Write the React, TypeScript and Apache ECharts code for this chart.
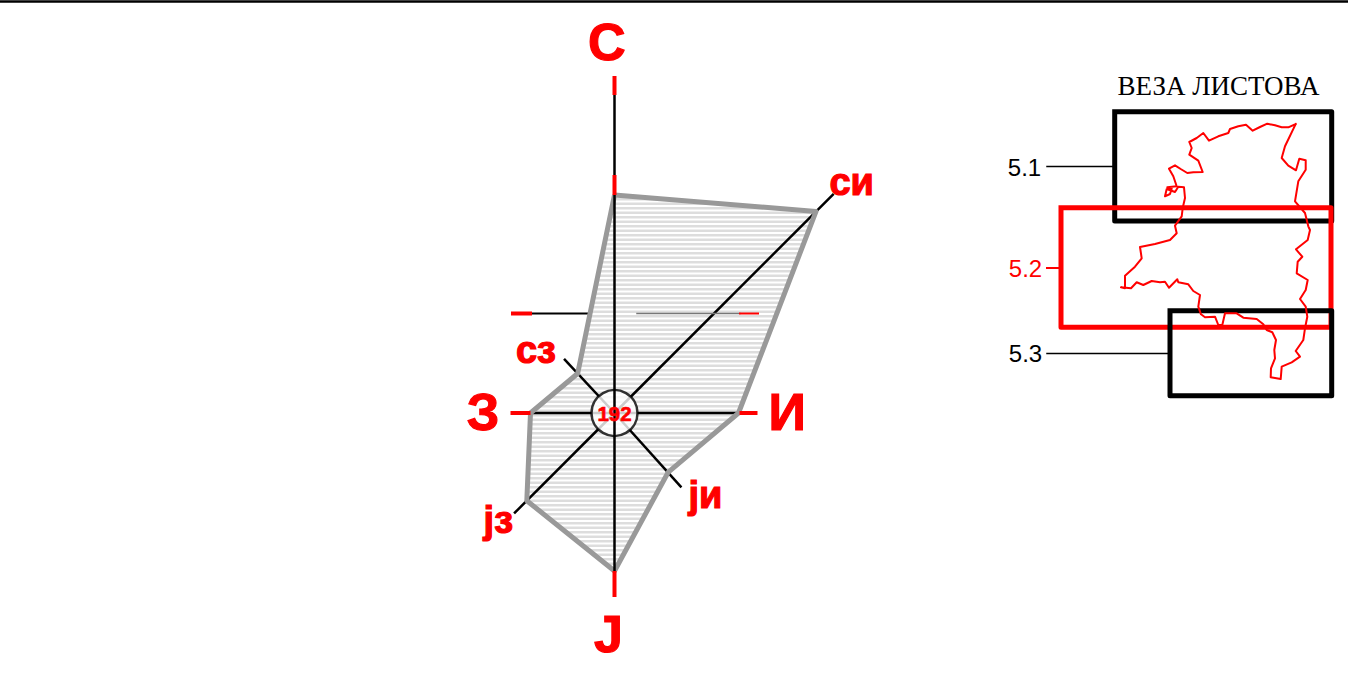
import React, { useEffect, useRef } from "react";
import * as echarts from "echarts";

const directions = ["С", "си", "И", "ји", "Ј", "јз", "З", "сз"];
const roseAngles = [0, 45, 90, 138, 180, 225, 270, 317, 360];
const roseValues = [218, 285, 124, 80, 158, 124, 84, 54, 218];
const armAngles = [45, 90, 138, 225, 270, 317];
const armLengths = [310, 125, 100, 142, 84, 74];
const northArm = 318;
const southArm = 158;
const redTicks = [
  [0, 318, 337], [0, 218, 238], [90, 125, 143], [180, 158, 184], [270, 84, 104],
];
const calmValue = 192;

const sheetNames = ["5.1", "5.2", "5.3"];
const sheet1X = [1114.7, 1331.7, 1331.7, 1114.7, 1114.7];
const sheet1Y = [111.7, 111.7, 221, 221, 111.7];
const sheet2X = [1061, 1331, 1331, 1061, 1061];
const sheet2Y = [207.7, 207.7, 327.3, 327.3, 207.7];
const sheet3X = [1170, 1331.7, 1331.7, 1170, 1170];
const sheet3Y = [310.7, 310.7, 395.7, 395.7, 310.7];

const mapX = [1295.7,1288.3,1281.7,1275,1267.3,1260,1252.7,1246,1238.3,1230,1228.3,1218.3,1209,1203.3,1196.7,1189.3,1191.7,1189.3,1198.3,1202.7,1193.3,1187.3,1180.7,1175,1169,1173.3,1176.7,1167.3,1171.7,1170,1165,1166.7,1175,1178.3,1184,1185,1182.7,1181.7,1175,1176.7,1170,1155,1140,1141.7,1135,1125,1125,1121,1131,1136.7,1143.3,1151.7,1160,1165,1169,1177.3,1178.3,1188.3,1193.3,1200,1198.3,1201,1205,1215,1218.3,1222.3,1225,1236.7,1243.3,1256.7,1263.3,1266.7,1272.3,1276,1274.3,1275,1271,1270.7,1280.7,1281.7,1291.7,1300,1295.7,1303.3,1305,1307.3,1305.7,1300,1305.7,1307.7,1296.7,1297.7,1302.3,1296,1307.7,1310,1308.3,1305,1295,1298.3,1305.7,1305.7,1299.3,1296,1288.3,1281.7,1285,1295.7];
const mapY = [124,127.3,127.3,125.3,123.7,127,130.7,124.7,126.3,129,133,136.3,140.7,133,138,142,148,154.7,160.7,172,172.3,173,169,165.3,168.7,176.3,186.3,187.3,188.7,194,196.3,189,192,186.7,187.3,198,208,216.3,225.7,233.3,240,244,247,258.3,266.7,275.7,288.3,287.3,288.3,282.3,285,281,282.3,281.7,287.7,279.3,282.3,284.3,291,295,306.7,314.3,317.3,316.7,325,325,313.3,313.3,317.7,319,324.3,330,332.3,340,350,358.3,368.3,377.3,379,366.7,362.3,356.7,351,340,328.3,316.7,306.7,299,290,280,273.3,261.7,256.7,249.3,240,230,226.3,213,201.3,181.3,169.7,160.3,158.7,170.3,165.7,158,146.3,124];

const zip = (a: number[], b: number[]) => a.map((v, i) => [v, b[i]]);

function stripes() {
  const c = document.createElement("canvas");
  c.width = 4;
  c.height = 9;
  const g = c.getContext("2d")!;
  g.fillStyle = "#ffffff";
  g.fillRect(0, 0, 4, 9);
  g.fillStyle = "#dddddd";
  g.fillRect(0, 0, 4, 2.5);
  g.fillRect(0, 4.5, 4, 2.5);
  return c;
}

const polarLine = (data: number[][], color: string, width: number, z: number, extra = {}) => ({
  type: "line", coordinateSystem: "polar", data, symbol: "none", silent: true, z,
  lineStyle: { color, width, cap: "butt", join: "round" }, ...extra,
});
const flatLine = (xs: number[], ys: number[], color: string, width: number, z: number) => ({
  type: "line", xAxisIndex: 0, yAxisIndex: 0, data: zip(xs, ys), symbol: "none", silent: true, z,
  lineStyle: { color, width, cap: "square", join: "round" },
});
const label = (text: string, x: number, y: number, size: number, fill = "#ff0000", weight = "bold", family = "'Liberation Sans'", stroke = 1.2) => ({
  type: "text", x, y, z: 30,
  style: {
    text, fill, fontSize: size, fontWeight: weight, fontFamily: family, textAlign: "center", textVerticalAlign: "middle",
    stroke: stroke ? fill : undefined, lineWidth: stroke,
  },
});

export default function App() {
  const ref = useRef<HTMLDivElement>(null);
  useEffect(() => {
    const chart = echarts.init(ref.current!, null, { renderer: "svg" });
    const roseData = zip(roseValues, roseAngles);
    chart.setOption({
      animation: false,
      backgroundColor: "#ffffff",
      grid: { left: 0, right: 0, top: 0, bottom: 0 },
      xAxis: { type: "value", min: 0, max: 1348, show: false },
      yAxis: { type: "value", min: 0, max: 674, inverse: true, show: false },
      polar: { center: [614.5, 413], radius: 340 },
      radiusAxis: { type: "value", min: 0, max: 340, show: false },
      angleAxis: { type: "value", min: 0, max: 360, startAngle: 90, clockwise: true, show: false },
      series: [
        flatLine([0, 1348], [1.5, 1.5], "#000000", 2.5, 1),
        polarLine(roseData, "transparent", 0, 2, {
          areaStyle: { opacity: 1, color: { image: stripes(), repeat: "repeat" } },
        }),
        ...armAngles.map((a, i) => polarLine([[0, a], [armLengths[i], a]], "#000000", 2.5, 3)),
        polarLine(roseData, "#999999", 5, 4),
        {
          type: "scatter", coordinateSystem: "polar", data: [[0, 0]], symbol: "circle", symbolSize: 46, silent: true, z: 5,
          itemStyle: { color: "#ffffff", borderColor: "#000000", borderWidth: 2.5 },
        },
        polarLine([[northArm, 0], [0, 0]], "#000000", 2.5, 6),
        polarLine([[0, 180], [southArm, 180]], "#000000", 2.5, 6),
        ...redTicks.map(([a, r0, r1]) => polarLine([[r0, a], [r1, a]], "#ff0000", 4, 7)),
        flatLine([530, 588], [313.5, 313.5], "#000000", 2, 3),
        flatLine([637, 740], [313.5, 313.5], "#777777", 1.5, 3),
        flatLine([513, 530], [313.5, 313.5], "#ff0000", 4, 7),
        flatLine([740, 758], [313.5, 313.5], "#ff0000", 2, 7),
        flatLine(sheet1X, sheet1Y, "#000000", 5, 10),
        flatLine(sheet2X, sheet2Y, "#ff0000", 5, 11),
        flatLine(sheet3X, sheet3Y, "#000000", 5, 12),
        flatLine(mapX, mapY, "#ff0000", 2, 13),
        flatLine([1047, 1114], [166.5, 166.5], "#000000", 1.5, 10),
        flatLine([1047, 1061], [268, 268], "#ff0000", 2, 10),
        flatLine([1047, 1170], [353.5, 353.5], "#000000", 1.5, 10),
      ],
      graphic: [
        label(directions[0], 606.7, 42, 52),
        label(directions[1], 851.7, 182, 38),
        label(directions[2], 787.2, 412, 52),
        label(directions[3], 705.5, 495, 38),
        label(directions[4], 608.5, 634, 52),
        label(directions[5], 498.3, 520, 38),
        label(directions[6], 483, 412, 52),
        label(directions[7], 536, 350, 38),
        label(String(calmValue), 614.5, 413.5, 20.5, "#ff0000", "bold", "'Liberation Sans'", 0.6),
        label("ВЕЗА ЛИСТОВА", 1218.5, 86, 27, "#000000", "normal", "'Liberation Serif'", 0),
        label(sheetNames[0], 1024.5, 167, 24, "#000000", "normal", "'Liberation Sans'", 0),
        label(sheetNames[1], 1025.5, 268, 24, "#ff0000", "normal", "'Liberation Sans'", 0),
        label(sheetNames[2], 1025.5, 353, 24, "#000000", "normal", "'Liberation Sans'", 0),
      ],
    });
    return () => chart.dispose();
  }, []);
  return <div ref={ref} style={{ position: "absolute", left: 0, top: 0, width: 1348, height: 674 }} />;
}
